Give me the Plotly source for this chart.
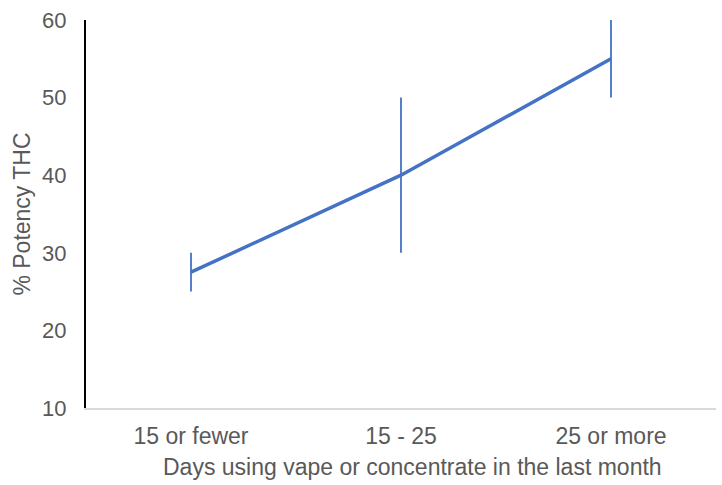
import plotly.graph_objects as go

categories = ["15 or fewer", "15 - 25", "25 or more"]
potency = [27.5, 40, 55]
err_plus = [2.5, 10, 5]
err_minus = [2.5, 10, 5]
y_ticks = [10, 20, 30, 40, 50, 60]

fig = go.Figure()
fig.add_trace(go.Scatter(
    x=categories, y=potency, mode="lines",
    line=dict(color="#4472C4", width=3.5),
    error_y=dict(type="data", symmetric=False, array=err_plus, arrayminus=err_minus,
                 color="#4472C4", thickness=1.8, width=0),
    showlegend=False,
))

font = "Liberation Sans, Arial, sans-serif"
fig.update_layout(
    width=722, height=485,
    margin=dict(l=86, r=6, t=20, b=77),
    paper_bgcolor="white", plot_bgcolor="white",
    font=dict(family=font, color="#595959"),
    xaxis=dict(
        type="category", showgrid=False, showline=True, linecolor="#d9d9d9", linewidth=1.5,
        ticks="", tickfont=dict(size=23, color="#595959"), ticklabelstandoff=7,
        range=[-0.5, 2.5],
    ),
    yaxis=dict(
        range=[10, 60], tickvals=y_ticks, showgrid=False, zeroline=False,
        showline=True, linecolor="black", linewidth=2, ticks="",
        tickfont=dict(size=22, color="#595959"), ticklabelstandoff=13,
        title=dict(text="% Potency THC", font=dict(size=23, color="#595959"), standoff=5),
    ),
    annotations=[dict(
        text="Days using vape or concentrate in the last month",
        xref="paper", yref="paper", x=0.519, y=0, xanchor="center", yanchor="middle",
        yshift=-59, showarrow=False, font=dict(size=23, color="#595959"),
    )],
)

fig.write_html("out.html")
